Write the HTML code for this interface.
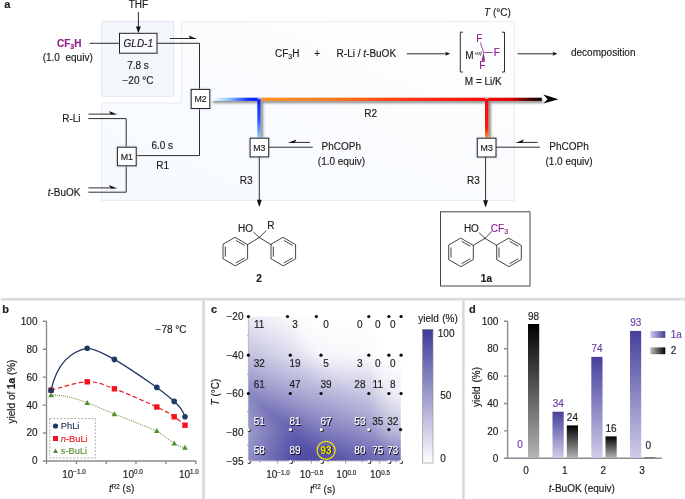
<!DOCTYPE html>
<html><head><meta charset="utf-8"><title>Figure</title>
<style>
html,body{margin:0;padding:0;background:#fff;}
body{width:685px;height:499px;overflow:hidden;font-family:"Liberation Sans",sans-serif;}
svg{display:block;font-family:"Liberation Sans",sans-serif;}
text{font-size:10px;fill:#1c1c1c;stroke:#1c1c1c;stroke-width:0.16px;}
.b{font-weight:bold;}
.i{font-style:italic;}
.p{fill:#8e1f8e;stroke:#8e1f8e;}
.ln{stroke:#222;stroke-width:0.95;fill:none;}
.bx{stroke:#222;stroke-width:1;fill:#fff;}
.m{font-size:8.8px;text-anchor:middle;}
.c{text-anchor:middle;}
.e{text-anchor:end;}
.ax{stroke:#8c8c8c;stroke-width:1.4;fill:none;}
.bond{stroke:#222;stroke-width:0.85;fill:none;stroke-linecap:round;}
.h{font-size:10px;}
.w{fill:#fff;stroke:#fff;}
.s{fill:#222;}
.v{fill:#6a3fa8;stroke:#6a3fa8;}
</style></head><body>
<svg width="685" height="499" viewBox="0 0 685 499">
<defs>
<linearGradient id="gb" x1="0" y1="0" x2="1" y2="0"><stop offset="0" stop-color="#fff"/><stop offset="0.35" stop-color="#9ccfff"/><stop offset="0.8" stop-color="#1030ff"/><stop offset="1" stop-color="#0818ff"/></linearGradient>
<linearGradient id="gbv" x1="0" y1="0" x2="0" y2="1"><stop offset="0" stop-color="#0818ff"/><stop offset="0.55" stop-color="#2a55ff"/><stop offset="1" stop-color="#9dd0ff"/></linearGradient>
<linearGradient id="gr" x1="0" y1="0" x2="1" y2="0"><stop offset="0" stop-color="#ff9122"/><stop offset="0.25" stop-color="#ff7a1a"/><stop offset="0.55" stop-color="#ff2a10"/><stop offset="0.8" stop-color="#f80808"/><stop offset="0.89" stop-color="#e00000"/><stop offset="0.97" stop-color="#300000"/><stop offset="1" stop-color="#000"/></linearGradient>
<linearGradient id="grv" x1="0" y1="0" x2="0" y2="1"><stop offset="0" stop-color="#f80808"/><stop offset="0.75" stop-color="#ff1a08"/><stop offset="1" stop-color="#ff9a20"/></linearGradient>
<linearGradient id="gL" x1="0" y1="1" x2="1" y2="0"><stop offset="0" stop-color="#f7fafd"/><stop offset="0.6" stop-color="#fafcfe"/><stop offset="1" stop-color="#fdfeff"/></linearGradient>
<linearGradient id="gpu" x1="0" y1="0" x2="0" y2="1"><stop offset="0" stop-color="#46409c"/><stop offset="1" stop-color="#cfcdea"/></linearGradient>
<linearGradient id="gbk" x1="0" y1="0" x2="0" y2="1"><stop offset="0" stop-color="#000"/><stop offset="1" stop-color="#b4b4b4"/></linearGradient>
<linearGradient id="gpuh" x1="0" y1="0" x2="1" y2="0"><stop offset="0" stop-color="#cfcdea"/><stop offset="1" stop-color="#46409c"/></linearGradient>
<linearGradient id="gbkh" x1="0" y1="0" x2="1" y2="0"><stop offset="0" stop-color="#c0c0c0"/><stop offset="1" stop-color="#000"/></linearGradient>
<linearGradient id="gcb" x1="0" y1="0" x2="0" y2="1"><stop offset="0" stop-color="#3e3a9b"/><stop offset="1" stop-color="#fff"/></linearGradient>
<linearGradient id="mv" x1="0" y1="0" x2="0" y2="1"><stop offset="0" stop-color="#000"/><stop offset="1" stop-color="#fff"/></linearGradient>
<filter id="sh" x="-5%" y="-50%" width="110%" height="250%"><feGaussianBlur stdDeviation="1.25"/></filter>
<filter id="hb" filterUnits="userSpaceOnUse" x="200" y="270" width="260" height="230"><feGaussianBlur stdDeviation="2.5"/></filter>
<filter id="gl" x="-30%" y="-30%" width="160%" height="160%"><feGaussianBlur stdDeviation="1.2"/></filter>
<filter id="shv" x="-150%" y="-5%" width="400%" height="110%"><feGaussianBlur stdDeviation="1.25"/></filter>

<linearGradient id="h0" gradientUnits="userSpaceOnUse" x1="248.4" y1="0" x2="400.8" y2="0">
<stop offset="0.0000" stop-color="#eae9f4"/>
<stop offset="0.2749" stop-color="#f9f9fc"/>
<stop offset="0.4764" stop-color="#ffffff"/>
<stop offset="0.7900" stop-color="#ffffff"/>
<stop offset="0.9219" stop-color="#ffffff"/>
<stop offset="1.0000" stop-color="#ffffff"/>
</linearGradient>
<linearGradient id="h1" gradientUnits="userSpaceOnUse" x1="248.4" y1="0" x2="400.8" y2="0">
<stop offset="0.0000" stop-color="#c1c0df"/>
<stop offset="0.2749" stop-color="#dadaec"/>
<stop offset="0.4764" stop-color="#f5f5fa"/>
<stop offset="0.7900" stop-color="#f9f9fc"/>
<stop offset="0.9219" stop-color="#ffffff"/>
<stop offset="1.0000" stop-color="#ffffff"/>
</linearGradient>
<linearGradient id="h2" gradientUnits="userSpaceOnUse" x1="248.4" y1="0" x2="400.8" y2="0">
<stop offset="0.0000" stop-color="#8987c2"/>
<stop offset="0.2749" stop-color="#a4a2d0"/>
<stop offset="0.4764" stop-color="#b4b2d8"/>
<stop offset="0.7900" stop-color="#c9c8e3"/>
<stop offset="0.9219" stop-color="#eae9f4"/>
<stop offset="1.0000" stop-color="#f0eff7"/>
</linearGradient>
<linearGradient id="h3" gradientUnits="userSpaceOnUse" x1="248.4" y1="0" x2="400.8" y2="0">
<stop offset="0.0000" stop-color="#9d9bcc"/>
<stop offset="0.2749" stop-color="#635fae"/>
<stop offset="0.4764" stop-color="#7e7bbc"/>
<stop offset="0.7900" stop-color="#9997ca"/>
<stop offset="0.9219" stop-color="#bbbadc"/>
<stop offset="1.0000" stop-color="#c1c0df"/>
</linearGradient>
<linearGradient id="h4" gradientUnits="userSpaceOnUse" x1="248.4" y1="0" x2="400.8" y2="0">
<stop offset="0.0000" stop-color="#8f8dc5"/>
<stop offset="0.2749" stop-color="#5350a6"/>
<stop offset="0.4764" stop-color="#4c48a2"/>
<stop offset="0.7900" stop-color="#6561af"/>
<stop offset="0.9219" stop-color="#6e6bb4"/>
<stop offset="1.0000" stop-color="#726fb6"/>
</linearGradient>
<mask id="mk0" maskUnits="userSpaceOnUse" x="208.4" y="315.4" width="232.4" height="40.8"><rect x="208.4" y="316.4" width="232.4" height="38.8" fill="url(#mv)"/></mask>
<mask id="mk1" maskUnits="userSpaceOnUse" x="208.4" y="354.2" width="232.4" height="40.3"><rect x="208.4" y="355.2" width="232.4" height="38.3" fill="url(#mv)"/></mask>
<mask id="mk2" maskUnits="userSpaceOnUse" x="208.4" y="392.5" width="232.4" height="38.0"><rect x="208.4" y="393.5" width="232.4" height="36.0" fill="url(#mv)"/></mask>
<mask id="mk3" maskUnits="userSpaceOnUse" x="208.4" y="428.5" width="232.4" height="33.3"><rect x="208.4" y="429.5" width="232.4" height="31.3" fill="url(#mv)"/></mask>
</defs>
<rect width="685" height="499" fill="#fff"/>
<rect x="101.7" y="21.4" width="72" height="74.8" fill="#f3f7fb" stroke="#d8e3ee" stroke-width="0.8"/>
<path d="M181.4 21.4H514.5V200.5H101.7V103H181.4Z" fill="url(#gL)" stroke="#e1e9f3" stroke-width="0.8"/>
<text x="4.3" y="8" class="b" style="font-size:11px">a</text>
<text x="138.5" y="8" class="c">THF</text>
<path class="ln" d="M138.4 12V28"/><path d="M138.4 33.2L136 26.5H140.8Z" fill="#111"/>
<text x="57" y="46.8" class="b p">CF<tspan dy="2" style="font-size:7px">3</tspan><tspan dy="-2">H</tspan></text>
<text x="42.7" y="60.6" xml:space="preserve">(1.0  equiv)</text>
<path class="ln" d="M89.7 43.3H119.5"/>
<rect class="bx" x="119.5" y="33.3" width="37.5" height="19.9" style="fill:#f8fafd"/>
<text x="138.3" y="46.8" class="c i">GLD-1</text>
<text x="138" y="69" class="c">7.8 s</text>
<text x="138" y="83.7" class="c">−20 °C</text>
<path class="ln" d="M157 43.3H199.5V89.4"/>
<path class="ln" d="M169.8 38.5H193.6"/><path d="M197.2 39.0L188.6 35.5L190.6 39.0Z" fill="#111"/>
<text x="80.5" y="122.2" class="e">R-Li</text>
<text x="80.5" y="196" class="e"><tspan class="i">t</tspan>-BuOK</text>
<path class="ln" d="M88.4 118.6H126.2V147.2"/>
<path class="ln" d="M88.4 192.2H126.2V165.8"/>
<path class="ln" d="M88.4 114.1H113.9"/><path d="M117.5 114.6L108.9 111.1L110.9 114.6Z" fill="#111"/>
<path class="ln" d="M88.4 187.9H113.9"/><path d="M117.5 188.4L108.9 184.9L110.9 188.4Z" fill="#111"/>
<path class="ln" d="M136.2 155.6H199.5V108.5"/>
<text x="151.4" y="148.7">6.0 s</text>
<text x="156.3" y="168.5">R1</text>
<text x="275" y="57.4">CF<tspan dy="2" style="font-size:7px">3</tspan><tspan dy="-2">H</tspan></text>
<text x="317.2" y="57" class="c">+</text>
<text x="336.6" y="57.4">R-Li / <tspan class="i">t</tspan>-BuOK</text>
<path class="ln" d="M406.8 53.8H447.2"/><path d="M450.2 53.8L445.2 51.8L446.2 53.8L445.2 55.8Z" fill="#111"/>
<path class="ln" d="M517.4 53.8H554.5"/><path d="M557.5 53.8L552.5 51.8L553.5 53.8L552.5 55.8Z" fill="#111"/>
<path class="ln" d="M462.8 32.2H460.3V72H462.8M502 32.2H504.5V72H502"/>
<text x="465.2" y="59">M</text>
<text x="479.3" y="42.4" class="c p">F</text>
<text x="493.7" y="56.4" class="p">F</text>
<text x="482.4" y="69" class="c p">F</text>
<path d="M483.6 52.6L480.3 42.3M483.5 52.5H492.8" stroke="#8e1f8e" stroke-width="0.8" fill="none"/>
<path d="M483.7 52.3L484.9 60.7L481.6 60.7Z" fill="#8e1f8e"/>
<path d="M475.3 54.4L475.7 52.6M477 54.8L477.5 52.3M478.8 55.2L479.4 52M480.6 55.6L481.3 51.7" stroke="#222" stroke-width="0.75" fill="none"/>
<text x="483.3" y="84.5" class="c">M = Li/K</text>
<text x="484" y="15.6"><tspan class="i">T</tspan> (°C)</text>
<text x="571" y="55.8">decomposition</text>
<text x="364.3" y="116.6">R2</text>
<g opacity="0.6" fill="#505050"><rect x="213" y="99.8" width="330" height="3.4" filter="url(#sh)"/><rect x="259.8" y="101" width="3.4" height="37" filter="url(#shv)"/><rect x="487.6" y="101" width="3.4" height="37" filter="url(#shv)"/></g>
<rect x="211" y="97.7" width="46.5" height="3.2" fill="url(#gb)"/>
<rect x="257.3" y="97.7" width="3.2" height="40.3" fill="url(#gbv)"/>
<rect x="260.8" y="97.7" width="281" height="3.2" fill="url(#gr)"/>
<rect x="485" y="99" width="3.4" height="39" fill="url(#grv)"/>
<path d="M558.5 99.2L543.3 94.6L547.6 99.2L543.3 103.6Z" fill="#000"/>
<rect x="257.4" y="97.6" width="3.2" height="1.4" fill="#b8c4ff"/><rect x="485" y="97.6" width="3.4" height="1.4" fill="#f2b8b0"/>
<rect x="190.4" y="88.6" width="20.2" height="20.7" fill="#b9cbe6" opacity="0.7" filter="url(#gl)"/><rect class="bx" x="191.2" y="89.4" width="18.6" height="19.1"/><text class="m" x="200.5" y="102.0">M2</text>
<rect x="116.6" y="146.4" width="20.4" height="20.2" fill="#b9cbe6" opacity="0.7" filter="url(#gl)"/><rect class="bx" x="117.4" y="147.2" width="18.8" height="18.6"/><text class="m" x="126.8" y="159.6">M1</text>
<rect x="249.3" y="137.4" width="20.2" height="20.3" fill="#b9cbe6" opacity="0.7" filter="url(#gl)"/><rect class="bx" x="250.1" y="138.2" width="18.6" height="18.7"/><text class="m" x="259.4" y="150.6">M3</text>
<rect x="476.5" y="137.4" width="20.3" height="20.4" fill="#b9cbe6" opacity="0.7" filter="url(#gl)"/><rect class="bx" x="477.3" y="138.2" width="18.7" height="18.8"/><text class="m" x="486.7" y="150.7">M3</text>
<path class="ln" d="M268.7 147.2H312.8"/>
<path class="ln" d="M291.4 142.4H310.0"/><path d="M287.8 142.9L296.4 139.4L294.4 142.9Z" fill="#111"/>
<text x="321.6" y="150.4">PhCOPh</text>
<text x="317.8" y="164.9">(1.0 equiv)</text>
<text x="239.8" y="183.8">R3</text>
<path class="ln" d="M259.3 156.9V201"/><path d="M259.3 207L256.8 199.8H261.8Z" fill="#111"/>
<path class="ln" d="M496 147.2H540"/>
<path class="ln" d="M519.0 142.4H537.6"/><path d="M515.4 142.9L524.0 139.4L522.0 142.9Z" fill="#111"/>
<text x="549.3" y="150.4">PhCOPh</text>
<text x="545.4" y="164.9">(1.0 equiv)</text>
<text x="467.1" y="183.8">R3</text>
<path class="ln" d="M485.6 157V201.5"/><path d="M485.6 207.5L483.1 200.3H488.1Z" fill="#111"/>
<rect x="440.5" y="211.8" width="89.5" height="74.2" fill="none" stroke="#333" stroke-width="0.9"/>
<path class="bond" d="M235.3 237.5L247.6 244.6L247.6 258.8L235.3 265.9L223.0 258.8L223.0 244.6Z"/><path class="bond" d="M236.3 240.7L244.3 245.3"/><path class="bond" d="M244.3 258.1L236.3 262.7"/><path class="bond" d="M225.3 256.3L225.3 247.1"/><path class="bond" d="M283.3 237.5L295.6 244.6L295.6 258.8L283.3 265.9L271.0 258.8L271.0 244.6Z"/><path class="bond" d="M284.3 240.7L292.3 245.3"/><path class="bond" d="M292.3 258.1L284.3 262.7"/><path class="bond" d="M273.3 256.3L273.3 247.1"/><path class="bond" d="M259.3 237.5L247.6 244.6M259.3 237.5L271.0 244.6M259.3 237.5L253.7 232.2M259.3 237.5L265.9 230.9"/>
<text x="253" y="231.5" class="e">HO</text>
<text x="267.3" y="229.4">R</text>
<text x="259" y="282" class="c b">2</text>
<path class="bond" d="M461.0 238.3L473.3 245.4L473.3 259.6L461.0 266.7L448.7 259.6L448.7 245.4Z"/><path class="bond" d="M462.0 241.5L470.0 246.1"/><path class="bond" d="M470.0 258.9L462.0 263.5"/><path class="bond" d="M451.0 257.1L451.0 247.9"/><path class="bond" d="M509.0 238.3L521.3 245.4L521.3 259.6L509.0 266.7L496.7 259.6L496.7 245.4Z"/><path class="bond" d="M510.0 241.5L518.0 246.1"/><path class="bond" d="M518.0 258.9L510.0 263.5"/><path class="bond" d="M499.0 257.1L499.0 247.9"/><path class="bond" d="M485.0 238.3L473.3 245.4M485.0 238.3L496.7 245.4M485.0 238.3L479.4 233.0M485.0 238.3L491.6 231.7"/>
<text x="478.9" y="232.3" class="e">HO</text>
<text x="490.8" y="232.3" class="p">CF<tspan dy="2" style="font-size:7px">3</tspan></text>
<text x="486.4" y="282" class="c b">1a</text>
<rect x="1" y="297.8" width="684" height="2.8" fill="#dcdcdc"/>
<rect x="202.2" y="300" width="2.6" height="199" fill="#dadada"/>
<rect x="462.1" y="300" width="2.6" height="199" fill="#dadada"/>
<text x="2.2" y="313.3" class="b" style="font-size:11px">b</text>
<path class="ax" d="M46.5 321.2V461H196.3"/>
<text x="37.5" y="464.4" class="e h">0</text>
<text x="37.5" y="436.4" class="e h">20</text>
<text x="37.5" y="408.5" class="e h">40</text>
<text x="37.5" y="380.5" class="e h">60</text>
<text x="37.5" y="352.6" class="e h">80</text>
<text x="37.5" y="324.6" class="e h">100</text>
<path class="ax" d="M42.8 461.0H46.5M42.8 433.0H46.5M42.8 405.1H46.5M42.8 377.1H46.5M42.8 349.2H46.5M42.8 321.2H46.5M46.5 461V464M76.4 461V464M106.2 461V464M136.0 461V464M165.9 461V464M195.8 461V464"/>
<text transform="translate(14.5 391.5) rotate(-90)" class="c h">yield of <tspan class="b">1a</tspan> (%)</text>
<text x="155.6" y="333" class="h">−78 °C</text>
<path transform="translate(0 0.5)" d="M51.1 389.7C57 362 72 350.5 87.2 347.8C97 348 106 355 114.4 358.9C130 368 144 378 156.8 386.9C163 391.5 169 396 174.2 400.9C179 405 183 410 185 416.3" fill="none" stroke="#1f3864" stroke-width="1.3"/>
<path d="M51.1 390.2C57.1 388.8 76.7 382.0 87.2 381.8C97.8 381.6 102.8 384.6 114.4 388.8C126.0 393.0 146.8 402.3 156.8 407.0C166.8 411.6 169.5 413.7 174.2 416.8C178.9 419.8 183.2 423.8 185.0 425.2" fill="none" stroke="#ee1c25" stroke-width="1.2" stroke-dasharray="4.5 2.6"/>
<path transform="translate(0 0.5)" d="M51.1 394.6C62 394.2 75 397.5 87.2 402.3C97 406 106 410.2 114.4 413.5C129 419.3 143 425 156.8 430.4C163 434.5 168.5 439 174.2 443C178 445.2 182 446.5 185 447.4" fill="none" stroke="#5b9132" stroke-width="1" stroke-dasharray="1 1"/>
<path d="M51.1 392.3L53.9 397.3H48.3Z" fill="#4f8f2f"/>
<path d="M87.2 400.0L90.0 405.0H84.4Z" fill="#4f8f2f"/>
<path d="M114.4 411.2L117.2 416.2H111.6Z" fill="#4f8f2f"/>
<path d="M156.8 427.9L159.6 432.9H154.0Z" fill="#4f8f2f"/>
<path d="M174.2 440.5L177.0 445.5H171.4Z" fill="#4f8f2f"/>
<path d="M185.0 444.7L187.8 449.7H182.2Z" fill="#4f8f2f"/>
<rect x="48.4" y="387.5" width="5.4" height="5.4" fill="#f5101c"/>
<rect x="84.5" y="379.1" width="5.4" height="5.4" fill="#f5101c"/>
<rect x="111.7" y="386.1" width="5.4" height="5.4" fill="#f5101c"/>
<rect x="154.1" y="404.3" width="5.4" height="5.4" fill="#f5101c"/>
<rect x="171.5" y="414.1" width="5.4" height="5.4" fill="#f5101c"/>
<rect x="182.3" y="422.5" width="5.4" height="5.4" fill="#f5101c"/>
<circle cx="51.1" cy="390.2" r="2.8" fill="#1f3864"/>
<circle cx="87.2" cy="348.3" r="2.8" fill="#1f3864"/>
<circle cx="114.4" cy="359.4" r="2.8" fill="#1f3864"/>
<circle cx="156.8" cy="387.4" r="2.8" fill="#1f3864"/>
<circle cx="174.2" cy="401.4" r="2.8" fill="#1f3864"/>
<circle cx="185.0" cy="416.8" r="2.8" fill="#1f3864"/>
<rect x="49.7" y="418.6" width="45.6" height="39.4" fill="#fff" stroke="#8a8a8a" stroke-width="0.7" stroke-dasharray="2 1.5"/>
<circle cx="55.5" cy="426" r="2.6" fill="#1f3864"/><text x="60.8" y="428.9" style="font-size:9.3px;fill:#1f3864;stroke:#1f3864">PhLi</text>
<rect x="53" y="436" width="5" height="5" fill="#f5101c"/><text x="60.8" y="441.5" style="font-size:9.3px;fill:#ee1c25;stroke:#ee1c25"><tspan class="i">n</tspan>-BuLi</text>
<path d="M55.5 448.4L58.1 453H52.9Z" fill="#4f8f2f"/><text x="60.8" y="454.1" style="font-size:9.3px;fill:#5b9132;stroke:#5b9132"><tspan class="i">s</tspan>-BuLi</text>
<text x="74.0" y="478.0" class="h" text-anchor="middle">10<tspan dy="-3.6" style="font-size:6.3px">−1.0</tspan></text>
<text x="132.8" y="478.0" class="h" text-anchor="middle">10<tspan dy="-3.6" style="font-size:6.3px">0.0</tspan></text>
<text x="188.9" y="478.0" class="h" text-anchor="middle">10<tspan dy="-3.6" style="font-size:6.3px">1.0</tspan></text>
<text x="109" y="492.2" class="h"><tspan class="i">t</tspan><tspan dy="-3.4" style="font-size:6.3px">R2</tspan><tspan dy="3.4"> (s)</tspan></text>
<text x="211" y="313.2" class="b" style="font-size:11px">c</text>
<clipPath id="hc"><rect x="248.4" y="316.4" width="152.4" height="144.4"/></clipPath>
<g clip-path="url(#hc)"><g filter="url(#hb)">
<rect x="218.4" y="286.4" width="212.4" height="31.0" fill="url(#h0)"/>
<rect x="218.4" y="459.8" width="212.4" height="31.0" fill="url(#h4)"/>
<rect x="218.4" y="315.9" width="212.4" height="39.8" fill="url(#h0)"/>
<rect x="218.4" y="316.4" width="212.4" height="38.8" fill="url(#h1)" mask="url(#mk0)"/>
<rect x="218.4" y="354.7" width="212.4" height="39.3" fill="url(#h1)"/>
<rect x="218.4" y="355.2" width="212.4" height="38.3" fill="url(#h2)" mask="url(#mk1)"/>
<rect x="218.4" y="393.0" width="212.4" height="37.0" fill="url(#h2)"/>
<rect x="218.4" y="393.5" width="212.4" height="36.0" fill="url(#h3)" mask="url(#mk2)"/>
<rect x="218.4" y="429.0" width="212.4" height="32.3" fill="url(#h3)"/>
<rect x="218.4" y="429.5" width="212.4" height="31.3" fill="url(#h4)" mask="url(#mk3)"/>
<linearGradient id="t1" gradientUnits="userSpaceOnUse" x1="287.5" y1="316.4" x2="272.9" y2="346.9"><stop offset="0" stop-color="#f9f9fc"/><stop offset="1" stop-color="#dadaec"/></linearGradient><polygon points="248.4,316.4 287.5,316.4 290.3,355.2" fill="url(#t1)" stroke="url(#t1)" stroke-width="0.6"/>
<linearGradient id="t2" gradientUnits="userSpaceOnUse" x1="248.4" y1="316.4" x2="231.7" y2="345.6"><stop offset="0" stop-color="#eae9f4"/><stop offset="1" stop-color="#c1c0df"/></linearGradient><polygon points="248.4,316.4 290.3,355.2 248.4,355.2" fill="url(#t2)" stroke="url(#t2)" stroke-width="0.6"/>
<linearGradient id="t3" gradientUnits="userSpaceOnUse" x1="316.3" y1="316.4" x2="299.4" y2="339.3"><stop offset="0" stop-color="#ffffff"/><stop offset="1" stop-color="#f5f5fa"/></linearGradient><polygon points="287.5,316.4 316.3,316.4 321.0,355.2" fill="url(#t3)" stroke="url(#t3)" stroke-width="0.6"/>
<linearGradient id="t4" gradientUnits="userSpaceOnUse" x1="287.5" y1="316.4" x2="269.5" y2="333.9"><stop offset="0" stop-color="#f9f9fc"/><stop offset="1" stop-color="#dadaec"/></linearGradient><polygon points="287.5,316.4 321.0,355.2 290.3,355.2" fill="url(#t4)" stroke="url(#t4)" stroke-width="0.6"/>
<linearGradient id="t5" gradientUnits="userSpaceOnUse" x1="316.3" y1="316.4" x2="316.3" y2="355.2"><stop offset="0" stop-color="#ffffff"/><stop offset="1" stop-color="#f9f9fc"/></linearGradient><polygon points="316.3,316.4 368.8,316.4 368.8,355.2" fill="url(#t5)" stroke="url(#t5)" stroke-width="0.6"/>
<linearGradient id="t6" gradientUnits="userSpaceOnUse" x1="316.3" y1="316.4" x2="305.7" y2="350.4"><stop offset="0" stop-color="#ffffff"/><stop offset="1" stop-color="#f5f5fa"/></linearGradient><polygon points="316.3,316.4 368.8,355.2 321.0,355.2" fill="url(#t6)" stroke="url(#t6)" stroke-width="0.6"/>
<polygon points="368.8,316.4 388.9,316.4 388.9,355.2" fill="#ffffff" stroke="#ffffff" stroke-width="0.6"/>
<linearGradient id="t7" gradientUnits="userSpaceOnUse" x1="368.8" y1="316.4" x2="353.0" y2="324.6"><stop offset="0" stop-color="#ffffff"/><stop offset="1" stop-color="#f9f9fc"/></linearGradient><polygon points="368.8,316.4 388.9,355.2 368.8,355.2" fill="url(#t7)" stroke="url(#t7)" stroke-width="0.6"/>
<polygon points="388.9,316.4 402.0,316.4 402.0,355.2" fill="#ffffff" stroke="#ffffff" stroke-width="0.6"/>
<polygon points="388.9,316.4 402.0,355.2 388.9,355.2" fill="#ffffff" stroke="#ffffff" stroke-width="0.6"/>
<linearGradient id="t8" gradientUnits="userSpaceOnUse" x1="290.3" y1="355.2" x2="276.5" y2="387.7"><stop offset="0" stop-color="#dadaec"/><stop offset="1" stop-color="#a4a2d0"/></linearGradient><polygon points="248.4,355.2 290.3,355.2 290.3,393.5" fill="url(#t8)" stroke="url(#t8)" stroke-width="0.6"/>
<linearGradient id="t9" gradientUnits="userSpaceOnUse" x1="248.4" y1="355.2" x2="234.3" y2="387.3"><stop offset="0" stop-color="#c1c0df"/><stop offset="1" stop-color="#8987c2"/></linearGradient><polygon points="248.4,355.2 290.3,393.5 248.4,393.5" fill="url(#t9)" stroke="url(#t9)" stroke-width="0.6"/>
<linearGradient id="t10" gradientUnits="userSpaceOnUse" x1="321.0" y1="355.2" x2="305.4" y2="385.5"><stop offset="0" stop-color="#f5f5fa"/><stop offset="1" stop-color="#b4b2d8"/></linearGradient><polygon points="290.3,355.2 321.0,355.2 321.0,393.5" fill="url(#t10)" stroke="url(#t10)" stroke-width="0.6"/>
<linearGradient id="t11" gradientUnits="userSpaceOnUse" x1="290.3" y1="355.2" x2="278.2" y2="389.2"><stop offset="0" stop-color="#dadaec"/><stop offset="1" stop-color="#a4a2d0"/></linearGradient><polygon points="290.3,355.2 321.0,393.5 290.3,393.5" fill="url(#t11)" stroke="url(#t11)" stroke-width="0.6"/>
<linearGradient id="t12" gradientUnits="userSpaceOnUse" x1="368.8" y1="355.2" x2="366.4" y2="393.3"><stop offset="0" stop-color="#f9f9fc"/><stop offset="1" stop-color="#c9c8e3"/></linearGradient><polygon points="321.0,355.2 368.8,355.2 368.8,393.5" fill="url(#t12)" stroke="url(#t12)" stroke-width="0.6"/>
<linearGradient id="t13" gradientUnits="userSpaceOnUse" x1="321.0" y1="355.2" x2="311.7" y2="391.1"><stop offset="0" stop-color="#f5f5fa"/><stop offset="1" stop-color="#b4b2d8"/></linearGradient><polygon points="321.0,355.2 368.8,393.5 321.0,393.5" fill="url(#t13)" stroke="url(#t13)" stroke-width="0.6"/>
<linearGradient id="t14" gradientUnits="userSpaceOnUse" x1="388.9" y1="355.2" x2="373.2" y2="385.4"><stop offset="0" stop-color="#ffffff"/><stop offset="1" stop-color="#eae9f4"/></linearGradient><polygon points="368.8,355.2 388.9,355.2 388.9,393.5" fill="url(#t14)" stroke="url(#t14)" stroke-width="0.6"/>
<linearGradient id="t15" gradientUnits="userSpaceOnUse" x1="368.8" y1="355.2" x2="350.3" y2="369.5"><stop offset="0" stop-color="#f9f9fc"/><stop offset="1" stop-color="#c9c8e3"/></linearGradient><polygon points="368.8,355.2 388.9,393.5 368.8,393.5" fill="url(#t15)" stroke="url(#t15)" stroke-width="0.6"/>
<linearGradient id="t16" gradientUnits="userSpaceOnUse" x1="388.9" y1="355.2" x2="388.9" y2="393.5"><stop offset="0" stop-color="#ffffff"/><stop offset="1" stop-color="#f0eff7"/></linearGradient><polygon points="388.9,355.2 402.0,355.2 402.0,393.5" fill="url(#t16)" stroke="url(#t16)" stroke-width="0.6"/>
<linearGradient id="t17" gradientUnits="userSpaceOnUse" x1="388.9" y1="355.2" x2="370.2" y2="378.6"><stop offset="0" stop-color="#ffffff"/><stop offset="1" stop-color="#eae9f4"/></linearGradient><polygon points="388.9,355.2 402.0,393.5 388.9,393.5" fill="url(#t17)" stroke="url(#t17)" stroke-width="0.6"/>
<linearGradient id="t18" gradientUnits="userSpaceOnUse" x1="290.3" y1="393.5" x2="279.0" y2="425.4"><stop offset="0" stop-color="#a4a2d0"/><stop offset="1" stop-color="#635fae"/></linearGradient><polygon points="248.4,393.5 290.3,393.5 290.5,429.5" fill="url(#t18)" stroke="url(#t18)" stroke-width="0.6"/>
<linearGradient id="t19" gradientUnits="userSpaceOnUse" x1="248.4" y1="429.5" x2="284.9" y2="415.3"><stop offset="0" stop-color="#9d9bcc"/><stop offset="1" stop-color="#635fae"/></linearGradient><polygon points="248.4,393.5 290.5,429.5 248.4,429.5" fill="url(#t19)" stroke="url(#t19)" stroke-width="0.6"/>
<linearGradient id="t20" gradientUnits="userSpaceOnUse" x1="321.0" y1="393.5" x2="310.2" y2="425.8"><stop offset="0" stop-color="#b4b2d8"/><stop offset="1" stop-color="#7e7bbc"/></linearGradient><polygon points="290.3,393.5 321.0,393.5 321.4,429.5" fill="url(#t20)" stroke="url(#t20)" stroke-width="0.6"/>
<linearGradient id="t21" gradientUnits="userSpaceOnUse" x1="290.3" y1="393.5" x2="276.3" y2="422.7"><stop offset="0" stop-color="#a4a2d0"/><stop offset="1" stop-color="#635fae"/></linearGradient><polygon points="290.3,393.5 321.4,429.5 290.5,429.5" fill="url(#t21)" stroke="url(#t21)" stroke-width="0.6"/>
<linearGradient id="t22" gradientUnits="userSpaceOnUse" x1="368.8" y1="393.5" x2="358.1" y2="425.9"><stop offset="0" stop-color="#c9c8e3"/><stop offset="1" stop-color="#9997ca"/></linearGradient><polygon points="321.0,393.5 368.8,393.5 368.8,429.5" fill="url(#t22)" stroke="url(#t22)" stroke-width="0.6"/>
<linearGradient id="t23" gradientUnits="userSpaceOnUse" x1="321.0" y1="393.5" x2="309.1" y2="424.9"><stop offset="0" stop-color="#b4b2d8"/><stop offset="1" stop-color="#7e7bbc"/></linearGradient><polygon points="321.0,393.5 368.8,429.5 321.4,429.5" fill="url(#t23)" stroke="url(#t23)" stroke-width="0.6"/>
<linearGradient id="t24" gradientUnits="userSpaceOnUse" x1="388.9" y1="393.5" x2="371.4" y2="407.3"><stop offset="0" stop-color="#eae9f4"/><stop offset="1" stop-color="#bbbadc"/></linearGradient><polygon points="368.8,393.5 388.9,393.5 388.9,429.5" fill="url(#t24)" stroke="url(#t24)" stroke-width="0.6"/>
<linearGradient id="t25" gradientUnits="userSpaceOnUse" x1="368.8" y1="393.5" x2="351.4" y2="407.0"><stop offset="0" stop-color="#c9c8e3"/><stop offset="1" stop-color="#9997ca"/></linearGradient><polygon points="368.8,393.5 388.9,429.5 368.8,429.5" fill="url(#t25)" stroke="url(#t25)" stroke-width="0.6"/>
<linearGradient id="t26" gradientUnits="userSpaceOnUse" x1="402.0" y1="393.5" x2="390.9" y2="425.7"><stop offset="0" stop-color="#f0eff7"/><stop offset="1" stop-color="#c1c0df"/></linearGradient><polygon points="388.9,393.5 402.0,393.5 402.0,429.5" fill="url(#t26)" stroke="url(#t26)" stroke-width="0.6"/>
<linearGradient id="t27" gradientUnits="userSpaceOnUse" x1="388.9" y1="393.5" x2="377.8" y2="425.7"><stop offset="0" stop-color="#eae9f4"/><stop offset="1" stop-color="#bbbadc"/></linearGradient><polygon points="388.9,393.5 402.0,429.5 388.9,429.5" fill="url(#t27)" stroke="url(#t27)" stroke-width="0.6"/>
<linearGradient id="t28" gradientUnits="userSpaceOnUse" x1="248.4" y1="429.5" x2="295.6" y2="446.4"><stop offset="0" stop-color="#9d9bcc"/><stop offset="1" stop-color="#5350a6"/></linearGradient><polygon points="248.4,429.5 290.5,429.5 290.5,460.8" fill="url(#t28)" stroke="url(#t28)" stroke-width="0.6"/>
<linearGradient id="t29" gradientUnits="userSpaceOnUse" x1="248.4" y1="429.5" x2="295.6" y2="443.9"><stop offset="0" stop-color="#9d9bcc"/><stop offset="1" stop-color="#5350a6"/></linearGradient><polygon points="248.4,429.5 290.5,460.8 248.4,460.8" fill="url(#t29)" stroke="url(#t29)" stroke-width="0.6"/>
<linearGradient id="t30" gradientUnits="userSpaceOnUse" x1="321.4" y1="429.5" x2="308.2" y2="453.6"><stop offset="0" stop-color="#7e7bbc"/><stop offset="1" stop-color="#4c48a2"/></linearGradient><polygon points="290.5,429.5 321.4,429.5 321.4,460.8" fill="url(#t30)" stroke="url(#t30)" stroke-width="0.6"/>
<linearGradient id="t31" gradientUnits="userSpaceOnUse" x1="290.5" y1="429.5" x2="309.4" y2="466.9"><stop offset="0" stop-color="#635fae"/><stop offset="1" stop-color="#4c48a2"/></linearGradient><polygon points="290.5,429.5 321.4,460.8 290.5,460.8" fill="url(#t31)" stroke="url(#t31)" stroke-width="0.6"/>
<linearGradient id="t32" gradientUnits="userSpaceOnUse" x1="368.8" y1="429.5" x2="359.2" y2="457.5"><stop offset="0" stop-color="#9997ca"/><stop offset="1" stop-color="#6561af"/></linearGradient><polygon points="321.4,429.5 368.8,429.5 368.8,460.8" fill="url(#t32)" stroke="url(#t32)" stroke-width="0.6"/>
<linearGradient id="t33" gradientUnits="userSpaceOnUse" x1="321.4" y1="429.5" x2="312.1" y2="457.7"><stop offset="0" stop-color="#7e7bbc"/><stop offset="1" stop-color="#4c48a2"/></linearGradient><polygon points="321.4,429.5 368.8,460.8 321.4,460.8" fill="url(#t33)" stroke="url(#t33)" stroke-width="0.6"/>
<linearGradient id="t34" gradientUnits="userSpaceOnUse" x1="388.9" y1="429.5" x2="374.2" y2="450.5"><stop offset="0" stop-color="#bbbadc"/><stop offset="1" stop-color="#6e6bb4"/></linearGradient><polygon points="368.8,429.5 388.9,429.5 388.9,460.8" fill="url(#t34)" stroke="url(#t34)" stroke-width="0.6"/>
<linearGradient id="t35" gradientUnits="userSpaceOnUse" x1="368.8" y1="429.5" x2="360.5" y2="458.4"><stop offset="0" stop-color="#9997ca"/><stop offset="1" stop-color="#6561af"/></linearGradient><polygon points="368.8,429.5 388.9,460.8 368.8,460.8" fill="url(#t35)" stroke="url(#t35)" stroke-width="0.6"/>
<linearGradient id="t36" gradientUnits="userSpaceOnUse" x1="402.0" y1="429.5" x2="396.7" y2="459.9"><stop offset="0" stop-color="#c1c0df"/><stop offset="1" stop-color="#726fb6"/></linearGradient><polygon points="388.9,429.5 402.0,429.5 402.0,460.8" fill="url(#t36)" stroke="url(#t36)" stroke-width="0.6"/>
<linearGradient id="t37" gradientUnits="userSpaceOnUse" x1="388.9" y1="429.5" x2="385.2" y2="460.4"><stop offset="0" stop-color="#bbbadc"/><stop offset="1" stop-color="#6e6bb4"/></linearGradient><polygon points="388.9,429.5 402.0,460.8 388.9,460.8" fill="url(#t37)" stroke="url(#t37)" stroke-width="0.6"/>
</g></g>
<path d="M248.4 316.4V461H401" stroke="#9a9ab0" stroke-width="0.6" fill="none"/>
<path d="M247 335.8H248.4M247 374.3H248.4M247 411.5H248.4M247 445.0H248.4M277.3 461V463.6M311.4 461V463.6M345.6 461V463.6M379.7 461V463.6M260.0 461V462.6M294.0 461V462.6M328.0 461V462.6M362.0 461V462.6M396.0 461V462.6" stroke="#777" stroke-width="0.7" fill="none"/>
<text x="243.5" y="319.9" class="e h">−20</text>
<text x="243.5" y="358.7" class="e h">−40</text>
<text x="243.5" y="397.0" class="e h">−60</text>
<text x="243.5" y="435.9" class="e h">−80</text>
<text x="243.5" y="464.9" class="e h">−95</text>
<text transform="translate(219 392) rotate(-90)" class="c h"><tspan class="i">T</tspan> (°C)</text>
<circle cx="248.4" cy="316.5" r="1.6" fill="#000"/>
<circle cx="287.5" cy="316.5" r="1.6" fill="#000"/>
<circle cx="316.3" cy="316.5" r="1.6" fill="#000"/>
<circle cx="368.8" cy="316.5" r="1.6" fill="#000"/>
<circle cx="388.9" cy="316.5" r="1.6" fill="#000"/>
<circle cx="401.1" cy="316.5" r="1.6" fill="#000"/>
<circle cx="248.4" cy="355.2" r="1.6" fill="#000"/>
<circle cx="290.3" cy="355.2" r="1.6" fill="#000"/>
<circle cx="321.0" cy="355.2" r="1.6" fill="#000"/>
<circle cx="368.8" cy="355.2" r="1.6" fill="#000"/>
<circle cx="388.9" cy="355.2" r="1.6" fill="#000"/>
<circle cx="401.1" cy="355.2" r="1.6" fill="#000"/>
<circle cx="248.4" cy="393.5" r="1.6" fill="#000"/>
<circle cx="290.3" cy="393.5" r="1.6" fill="#000"/>
<circle cx="321.0" cy="393.5" r="1.6" fill="#000"/>
<circle cx="368.8" cy="393.5" r="1.6" fill="#000"/>
<circle cx="388.9" cy="393.5" r="1.6" fill="#000"/>
<circle cx="401.1" cy="393.5" r="1.6" fill="#000"/>
<circle cx="249.1" cy="430.3" r="1.7" fill="#111"/><circle cx="248.4" cy="429.6" r="1.6" fill="#fff"/>
<circle cx="291.2" cy="430.3" r="1.7" fill="#111"/><circle cx="290.5" cy="429.6" r="1.6" fill="#fff"/>
<circle cx="322.1" cy="430.3" r="1.7" fill="#111"/><circle cx="321.4" cy="429.6" r="1.6" fill="#fff"/>
<circle cx="369.5" cy="430.3" r="1.7" fill="#111"/><circle cx="368.8" cy="429.6" r="1.6" fill="#fff"/>
<circle cx="388.9" cy="429.6" r="1.6" fill="#000"/>
<circle cx="400.6" cy="429.6" r="1.6" fill="#000"/>
<circle cx="249.1" cy="462.3" r="1.7" fill="#111"/><circle cx="248.4" cy="461.6" r="1.6" fill="#fff"/>
<circle cx="291.2" cy="462.3" r="1.7" fill="#111"/><circle cx="290.5" cy="461.6" r="1.6" fill="#fff"/>
<circle cx="322.1" cy="462.3" r="1.7" fill="#111"/><circle cx="321.4" cy="461.6" r="1.6" fill="#fff"/>
<circle cx="369.5" cy="462.3" r="1.7" fill="#111"/><circle cx="368.8" cy="461.6" r="1.6" fill="#fff"/>
<circle cx="389.6" cy="462.3" r="1.7" fill="#111"/><circle cx="388.9" cy="461.6" r="1.6" fill="#fff"/>
<circle cx="401.3" cy="462.3" r="1.7" fill="#111"/><circle cx="400.6" cy="461.6" r="1.6" fill="#fff"/>
<text x="259.2" y="327.7" class="h c">11</text>
<text x="295.0" y="327.7" class="h c">3</text>
<text x="326.1" y="327.7" class="h c">0</text>
<text x="359.9" y="327.7" class="h c">0</text>
<text x="377.8" y="327.7" class="h c">0</text>
<text x="392.7" y="327.7" class="h c">0</text>
<text x="259.2" y="366.5" class="h c">32</text>
<text x="295.0" y="366.5" class="h c">19</text>
<text x="326.1" y="366.5" class="h c">5</text>
<text x="359.9" y="366.5" class="h c">3</text>
<text x="377.8" y="366.5" class="h c">0</text>
<text x="392.7" y="366.5" class="h c">0</text>
<text x="259.2" y="388.4" class="h c">61</text>
<text x="295.0" y="388.4" class="h c">47</text>
<text x="326.1" y="388.4" class="h c">39</text>
<text x="359.9" y="388.4" class="h c">28</text>
<text x="377.8" y="388.4" class="h c">11</text>
<text x="392.7" y="388.4" class="h c">8</text>
<text x="260.1" y="425.5" class="h c" style="fill:#05051a;stroke:#05051a">51</text><text x="259.2" y="424.6" class="h c w" style="fill:#fff;stroke:#fff">51</text>
<text x="295.9" y="425.5" class="h c" style="fill:#05051a;stroke:#05051a">81</text><text x="295.0" y="424.6" class="h c w" style="fill:#fff;stroke:#fff">81</text>
<text x="327.0" y="425.5" class="h c" style="fill:#05051a;stroke:#05051a">67</text><text x="326.1" y="424.6" class="h c w" style="fill:#fff;stroke:#fff">67</text>
<text x="360.8" y="425.5" class="h c" style="fill:#05051a;stroke:#05051a">53</text><text x="359.9" y="424.6" class="h c w" style="fill:#fff;stroke:#fff">53</text>
<text x="377.8" y="424.6" class="h c">35</text>
<text x="392.7" y="424.6" class="h c">32</text>
<text x="260.1" y="454.5" class="h c" style="fill:#05051a;stroke:#05051a">58</text><text x="259.2" y="453.6" class="h c w" style="fill:#fff;stroke:#fff">58</text>
<text x="295.9" y="454.5" class="h c" style="fill:#05051a;stroke:#05051a">89</text><text x="295.0" y="453.6" class="h c w" style="fill:#fff;stroke:#fff">89</text>
<text x="360.8" y="454.5" class="h c" style="fill:#05051a;stroke:#05051a">80</text><text x="359.9" y="453.6" class="h c w" style="fill:#fff;stroke:#fff">80</text>
<text x="378.7" y="454.5" class="h c" style="fill:#05051a;stroke:#05051a">75</text><text x="377.8" y="453.6" class="h c w" style="fill:#fff;stroke:#fff">75</text>
<text x="393.6" y="454.5" class="h c" style="fill:#05051a;stroke:#05051a">73</text><text x="392.7" y="453.6" class="h c w" style="fill:#fff;stroke:#fff">73</text>
<circle cx="326.1" cy="450.4" r="9" fill="none" stroke="#f2e600" stroke-width="1.2"/>
<text x="326.7" y="454.2" class="h c b" style="fill:#000;stroke:#000">93</text><text x="326.1" y="453.6" class="h c b" style="fill:#fff000;stroke:none">93</text>
<text x="278.0" y="478.3" class="h" text-anchor="middle">10<tspan dy="-3.6" style="font-size:6.3px">−1.0</tspan></text>
<text x="311.6" y="478.3" class="h" text-anchor="middle">10<tspan dy="-3.6" style="font-size:6.3px">−0.5</tspan></text>
<text x="346.3" y="478.3" class="h" text-anchor="middle">10<tspan dy="-3.6" style="font-size:6.3px">0.0</tspan></text>
<text x="380.0" y="478.3" class="h" text-anchor="middle">10<tspan dy="-3.6" style="font-size:6.3px">0.5</tspan></text>
<text x="310" y="492.6" class="h"><tspan class="i">t</tspan><tspan dy="-3.4" style="font-size:6.3px">R2</tspan><tspan dy="3.4"> (s)</tspan></text>
<text x="418.3" y="322" class="h" style="word-spacing:0.6px">yield (%)</text>
<rect x="422.5" y="329.3" width="10.5" height="133.7" fill="url(#gcb)" stroke="#8a8a8a" stroke-width="0.6"/>
<text x="437.8" y="337.3" class="h">100</text>
<text x="440.3" y="399.2" class="h">50</text>
<text x="440.3" y="462.4" class="h">0</text>
<text x="469" y="313.2" class="b" style="font-size:11px">d</text>
<path class="ax" d="M507.6 321.3V458.3H661.8"/>
<text x="498.4" y="461.9" class="e">0</text>
<text x="498.4" y="434.5" class="e">20</text>
<text x="498.4" y="407.1" class="e">40</text>
<text x="498.4" y="379.7" class="e">60</text>
<text x="498.4" y="352.3" class="e">80</text>
<text x="498.4" y="324.9" class="e">100</text>
<path class="ax" d="M504 458.3H507.6M504 430.9H507.6M504 403.5H507.6M504 376.1H507.6M504 348.7H507.6M504 321.3H507.6"/>
<text transform="translate(479.7 387) rotate(-90)" class="c" style="word-spacing:1.2px">yield (%)</text>
<rect x="513.8" y="457.2" width="11.2" height="0.7" fill="#b9b6de"/>
<text x="520.1" y="448.2" class="c v">0</text>
<rect x="528.0" y="324.0" width="11.2" height="133.9" fill="url(#gbk)"/>
<text x="533.6" y="319.6" class="c">98</text>
<text x="526.0" y="474" class="c">0</text>
<rect x="552.5" y="411.7" width="11.2" height="46.2" fill="url(#gpu)"/>
<text x="558.3" y="407.2" class="c v">34</text>
<rect x="566.8" y="425.4" width="11.2" height="32.5" fill="url(#gbk)"/>
<text x="572.4" y="421.0" class="c">24</text>
<text x="564.7" y="474" class="c">1</text>
<rect x="591.3" y="356.9" width="11.2" height="101.0" fill="url(#gpu)"/>
<text x="597.1" y="352.4" class="c v">74</text>
<rect x="605.5" y="436.4" width="11.2" height="21.5" fill="url(#gbk)"/>
<text x="611.1" y="432.0" class="c">16</text>
<text x="603.4" y="474" class="c">2</text>
<rect x="630.0" y="330.9" width="11.2" height="127.0" fill="url(#gpu)"/>
<text x="635.8" y="326.4" class="c v">93</text>
<rect x="644.2" y="457" width="11" height="0.8" fill="#666"/>
<text x="648.2" y="448.5" class="c">0</text>
<text x="642.1" y="474" class="c">3</text>
<text x="548.8" y="491.8"><tspan class="i">t</tspan>-BuOK (equiv)</text>
<rect x="650.3" y="331.1" width="15" height="6.8" fill="url(#gpuh)"/>
<text x="670.8" y="337.5" class="v">1a</text>
<rect x="650.3" y="347.4" width="15" height="6.8" fill="url(#gbkh)"/>
<text x="670.8" y="354.3">2</text>
</svg></body></html>
